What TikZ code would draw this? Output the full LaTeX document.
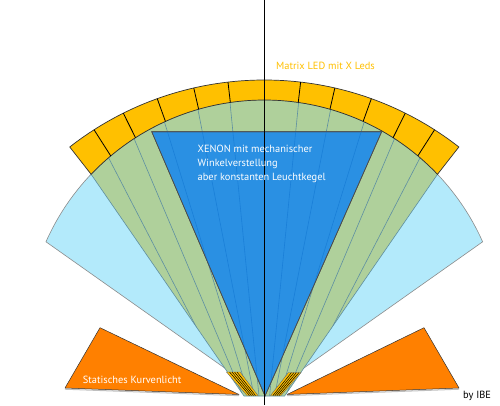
\documentclass[tikz,border=0pt]{standalone}
\usepackage{fontspec}
\setmainfont{PT Sans}
\usetikzlibrary{calc}
\definecolor{lightblue}{HTML}{B3EAFB}
\definecolor{fangreen}{HTML}{AFD09B}
\definecolor{xenonblue}{HTML}{2A90E3}
\definecolor{ledyellow}{HTML}{FFC000}
\definecolor{curveorange}{HTML}{FF8000}
\definecolor{tealline}{HTML}{5E8FA2}
\definecolor{blueline}{HTML}{1A7FD8}
\tikzset{
  lbfill/.style={fill=lightblue, draw=black!45, line width=0.6pt},
  gfill/.style={fill=fangreen, draw=tealline, line width=0.6pt},
  gline/.style={draw=tealline, line width=0.6pt},
  bfill/.style={fill=xenonblue, draw=black!70, line width=0.6pt},
  bline/.style={draw=blueline, line width=0.6pt},
  ringfill/.style={fill=ledyellow, draw=black!80, line width=0.7pt},
  divider/.style={draw=black, line width=0.8pt},
  ofill/.style={fill=curveorange, draw=black!80, line width=0.5pt, line join=round},
  patchfill/.style={fill=ledyellow, draw=black!60, line width=0.4pt},
  stripe/.style={draw=black, line width=0.5pt},
  lbl/.style={inner sep=0pt, font=\fontsize{10.4}{13.7}\selectfont}
}
\begin{document}
\begin{tikzpicture}[x=1pt,y=1pt]
\useasboundingbox (0,0) rectangle (500,405);
\fill[white] (0,0) rectangle (500,405);
\coordinate (A) at (264.3,9);
\coordinate (C2) at (264.3,66);
\coordinate (XA) at (265,9);
% light blue fan
\path[lbfill] (A) -- ($(C2)+(156:239)$) arc[start angle=156,end angle=24,radius=239] -- cycle;
% green fan
\path[gfill] (244,9) -- ($(C2)+(136.44:239)$) arc[start angle=136.44,end angle=43.56,radius=239] -- (284.6,9) -- cycle;
\begin{scope}
\clip (244,9) -- ($(C2)+(136.44:239)$) arc[start angle=136.44,end angle=43.56,radius=239] -- (284.6,9) -- cycle;
\foreach \a/\b in {122.6/232, 116.5/243, 109.8/249, 102.9/254, 96.6/259, 57.4/296.6, 63.5/285.6, 70.2/279.6, 77.1/274.6, 83.4/269.6}
  \draw[gline] ($(A)+(\a:316)$) -- (\b,9);
\end{scope}
% xenon triangle
\path[bfill] (151.7,273.3) -- (381.7,273.3) -- (XA) -- cycle;
\begin{scope}
\clip (151.7,273.3) -- (381.7,273.3) -- (XA) -- cycle;
\foreach \a/\b in {109.8/249, 102.9/254, 96.6/259, 70.2/279.6, 77.1/274.6, 83.4/269.6}
  \draw[bline] ($(A)+(\a:316)$) -- (\b,9);
\end{scope}
\path[bfill, fill=none] (151.7,273.3) -- (381.7,273.3) -- (XA) -- cycle;
% LED ring
\path[ringfill] ($(A)+(128:316)$) arc[start angle=128,end angle=52,radius=316] -- ($(C2)+(43.56:239)$) arc[start angle=43.56,end angle=136.44,radius=239] -- cycle;
\begin{scope}
\clip ($(A)+(128:316)$) arc[start angle=128,end angle=52,radius=316] -- ($(C2)+(43.56:239)$) arc[start angle=43.56,end angle=136.44,radius=239] -- cycle;
\foreach \a in {122.6,116.5,109.8,102.9,96.6,57.4,63.5,70.2,77.1,83.4}
  \draw[divider] (A) -- ($(A)+(\a:330)$);
\end{scope}
% static cornering light
\draw[black!25, line width=1pt] (65,15.8) -- (239,9.3);
\draw[black!25, line width=1pt] (459,15.8) -- (287,9.3);
\path[ofill] (100,77.3) -- (65,17) -- (239,10.5) -- cycle;
\path[ofill] (424,77.3) -- (459,17) -- (287,10.5) -- cycle;
% small LED slivers near the origin
\path[patchfill] (226.5,33) -- (240,33) -- (258,9.5) -- (247,9.5) -- cycle;
\begin{scope}
\clip (226.5,33) -- (240,33) -- (258,9.5) -- (247,9.5) -- cycle;
\foreach \t/\u in {229.5/249.5, 232/251.5, 234.5/253.5, 237/255.5}
  \draw[stripe] (\t,33) -- (\u,9.5);
\end{scope}
\path[patchfill] (301,32.5) -- (288.5,32.5) -- (270.5,9.5) -- (281,9.5) -- cycle;
\begin{scope}
\clip (301,32.5) -- (288.5,32.5) -- (270.5,9.5) -- (281,9.5) -- cycle;
\foreach \t/\u in {299/279, 296.5/277, 294/275, 291.5/273}
  \draw[stripe] (\t,32.5) -- (\u,9.5);
\end{scope}
% axis
\draw[black, line width=0.7pt] (264.3,0) -- (264.3,405);
% labels
\node[lbl, text=ledyellow, anchor=base west] (matrix) at (276,335.8) {Matrix LED mit X Leds};
\node[lbl, text=white, anchor=north west, align=left] (xenon) at (197.5,259.9) {XENON mit mechanischer\\Winkelverstellung\\aber konstanten Leuchtkegel};
\node[lbl, text=white, anchor=base west] (static) at (82.7,21.5) {Statisches Kurvenlicht};
\node[lbl, text=black, anchor=base west] (ibe) at (463,6.5) {by IBE};
\end{tikzpicture}
\end{document}
